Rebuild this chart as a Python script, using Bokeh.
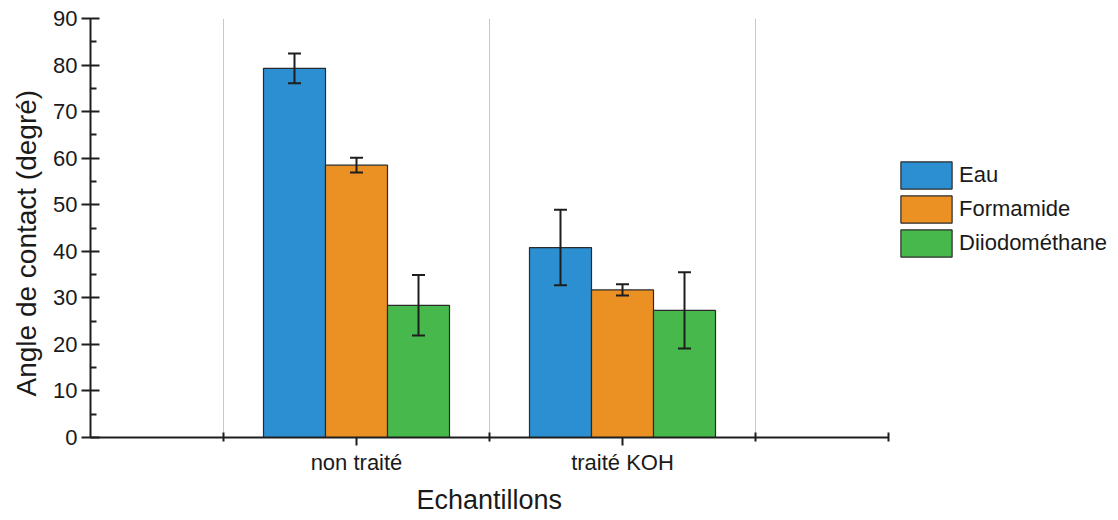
from bokeh.plotting import figure
from bokeh.models import (ColumnDataSource, FixedTicker, Whisker, TeeHead, Legend,
                          LegendItem, Range1d, Title)
from bokeh.embed import file_html
from bokeh.resources import INLINE

categories = ["non traité", "traité KOH"]
series = ["Eau", "Formamide", "Diiodométhane"]
eau = [79.3, 40.8]
eau_err = [3.2, 8.1]
formamide = [58.5, 31.7]
formamide_err = [1.6, 1.2]
diiodo = [28.4, 27.3]
diiodo_err = [6.5, 8.2]
colors = ["#2b8fd1", "#eb9124", "#47b84b"]
x_title = "Echantillons"
y_title = "Angle de contact (degré)"

FONT = "Liberation Sans"
TXT = "#1a1a1a"

W, H = 1118, 520
LEFT, TOP, BOTTOM, RIGHT = 90, 18, 82, 4
UNIT_PX = 266  # pixels per category slot
n_slots = len(categories) + 1
frame_w = W - LEFT - RIGHT
frame_h = H - TOP - BOTTOM

p = figure(width=W, height=H, output_backend="svg", toolbar_location=None,
           min_border_left=LEFT, min_border_top=TOP, min_border_bottom=BOTTOM,
           min_border_right=RIGHT)
p.x_range = Range1d(0, frame_w / UNIT_PX)
p.y_range = Range1d(0, 90)
p.outline_line_color = None

centers = [i + 1 for i in range(len(categories))]
bw = 0.2331
offsets = [-bw, 0.0, bw]
values = [eau, formamide, diiodo]
errs = [eau_err, formamide_err, diiodo_err]

items = []
for k, name in enumerate(series):
    xs = [c + offsets[k] for c in centers]
    src = ColumnDataSource(dict(
        x=xs, top=values[k],
        upper=[v + e for v, e in zip(values[k], errs[k])],
        lower=[v - e for v, e in zip(values[k], errs[k])]))
    r = p.vbar(x="x", top="top", width=bw, bottom=0, source=src,
               fill_color=colors[k], line_color="#2a2a2a", line_width=1.2)
    items.append(LegendItem(label=name, renderers=[r]))
    w = Whisker(base="x", upper="upper", lower="lower", source=src, level="overlay",
                line_color="#1e1e1e", line_width=2,
                upper_head=TeeHead(size=13, line_color="#1e1e1e", line_width=2),
                lower_head=TeeHead(size=13, line_color="#1e1e1e", line_width=2))
    p.add_layout(w)

# axes
xa = p.xaxis[0]
xa.bounds = (0, n_slots)
xa.ticker = FixedTicker(ticks=centers,
                        minor_ticks=[c - 0.5 for c in centers] + [centers[-1] + 0.5, n_slots])
xa.major_label_overrides = {c: lab for c, lab in zip(centers, categories)}
xa.major_tick_in = 0
xa.major_tick_out = 8
xa.minor_tick_in = 5
xa.minor_tick_out = 4

ya = p.yaxis[0]
ya.ticker = FixedTicker(ticks=list(range(0, 91, 10)), minor_ticks=list(range(5, 90, 10)))
ya.major_tick_in = 9
ya.major_tick_out = 9
ya.minor_tick_in = 6
ya.minor_tick_out = 0

for ax in (xa, ya):
    ax.axis_line_width = 2
    ax.axis_line_color = "#1e1e1e"
    ax.major_tick_line_width = 2
    ax.major_tick_line_color = "#1e1e1e"
    ax.minor_tick_line_width = 2
    ax.minor_tick_line_color = "#1e1e1e"
    ax.major_label_text_font = FONT
    ax.major_label_text_font_size = "22px"
    ax.major_label_text_color = TXT
xa.major_label_standoff = 4
ya.major_label_standoff = 4

# axis titles, placed along the drawn axis span rather than the whole frame
xt = Title(text=x_title, align="left", offset=n_slots * UNIT_PX / 2 - 73,
           standoff=11, text_font=FONT, text_font_size="27px",
           text_font_style="normal", text_color=TXT)
p.add_layout(xt, "below")
yt = Title(text=y_title, align="left", offset=41, standoff=17,
           text_font=FONT, text_font_size="28px", text_font_style="normal",
           text_color=TXT)
p.add_layout(yt, "left")

p.ygrid.grid_line_color = None
p.xgrid.ticker = FixedTicker(ticks=[c - 0.5 for c in centers] + [centers[-1] + 0.5])
p.xgrid.grid_line_color = "#c8c8c8"
p.xgrid.grid_line_width = 1

legend = Legend(items=items, location=(n_slots * UNIT_PX + 6, 177), padding=0, margin=0,
                spacing=-7, glyph_width=64, glyph_height=34, label_height=34,
                label_standoff=1, label_text_font=FONT, label_text_font_size="22px",
                label_text_color=TXT, border_line_color=None,
                background_fill_alpha=0)
p.add_layout(legend, "center")

open("out.html", "w").write(file_html(p, INLINE))
